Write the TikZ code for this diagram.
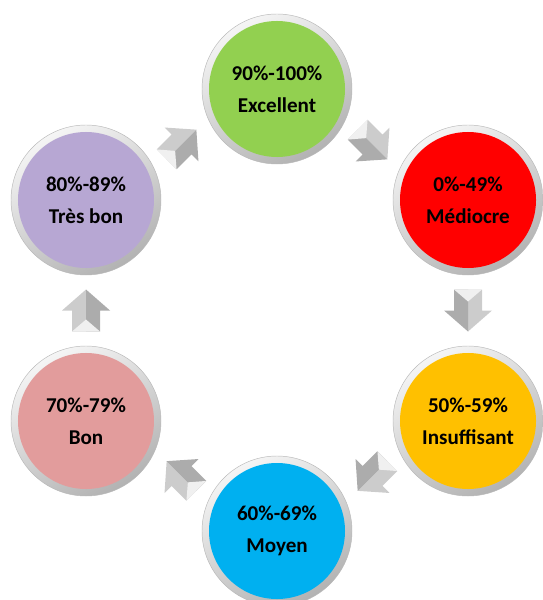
\documentclass[tikz,border=0pt]{standalone}
\usepackage{fontspec}
\setmainfont{Carlito}
\usepackage{xcolor}
\usetikzlibrary{calc, backgrounds}
\definecolor{cGreen}{HTML}{92D050}
\definecolor{cRed}{HTML}{FF0000}
\definecolor{cYellow}{HTML}{FFC000}
\definecolor{cBlue}{HTML}{00B0F0}
\definecolor{cPink}{HTML}{E29C9C}
\definecolor{cPurple}{HTML}{B7A7D3}
\colorlet{btncol}{cGreen}
\pgfdeclareradialshading[btncol]{button}{\pgfpoint{0bp}{0bp}}{%
  color(0bp)=(btncol); color(38bp)=(btncol); color(45bp)=(btncol!88!black);
  color(50bp)=(btncol!70!black)}

\begin{document}
\begin{tikzpicture}[
    x=0.03cm, y=-0.03cm,
    btn/.style={circle, minimum size=4.08cm, inner sep=0pt, align=center,
                font=\fontsize{18}{27}\selectfont\bfseries,
                /utils/exec={\colorlet{btncol}{#1}}, shading=button},
    ring/.style={top color=gray!8, bottom color=gray!60, shading angle=30,
                 draw=gray!55, line width=0.4pt},
    arrL/.style={fill=gray!40},
    arrR/.style={fill=gray!65},
    arrB/.style={fill=gray!12},
  ]
  \useasboundingbox (0,0) rectangle (542,600);

  % ── BUTTONS ──
  \node[btn=cGreen]  (exc) at (277,89)  {90\%-100\%\\Excellent};
  \node[btn=cRed]    (med) at (468,200) {0\%-49\%\\Médiocre};
  \node[btn=cYellow] (ins) at (468,421) {50\%-59\%\\Insuffisant};
  \node[btn=cBlue]   (moy) at (277,531) {60\%-69\%\\Moyen};
  \node[btn=cPink]   (bon) at (86,421)  {70\%-79\%\\Bon};
  \node[btn=cPurple] (tb)  at (86,200)  {80\%-89\%\\Très bon};

  % ── silver rings ──
  \begin{scope}[on background layer]
    \foreach \n in {exc,med,ins,moy,bon,tb}
      \shade[ring] (\n.center) circle[radius=2.25cm];
  \end{scope}

  % ── block arrows ──
  \foreach \a/\b/\r in {exc/med/-135, med/ins/180, ins/moy/135,
                        moy/bon/45, bon/tb/0, tb/exc/-45}{
    \begin{scope}[shift={($(\a.center)!0.5!(\b.center)$)}, rotate=\r]
      \fill[arrL] (0,-21) -- (-24,0) -- (-14,0) -- (-14,21) -- (0,21) -- cycle;
      \fill[arrR] (0,-21) -- (24,0) -- (14,0) -- (14,21) -- (0,21) -- cycle;
      \fill[arrB] (-14,21) -- (0,9) -- (14,21) -- cycle;
    \end{scope}
  }
\end{tikzpicture}
\end{document}
